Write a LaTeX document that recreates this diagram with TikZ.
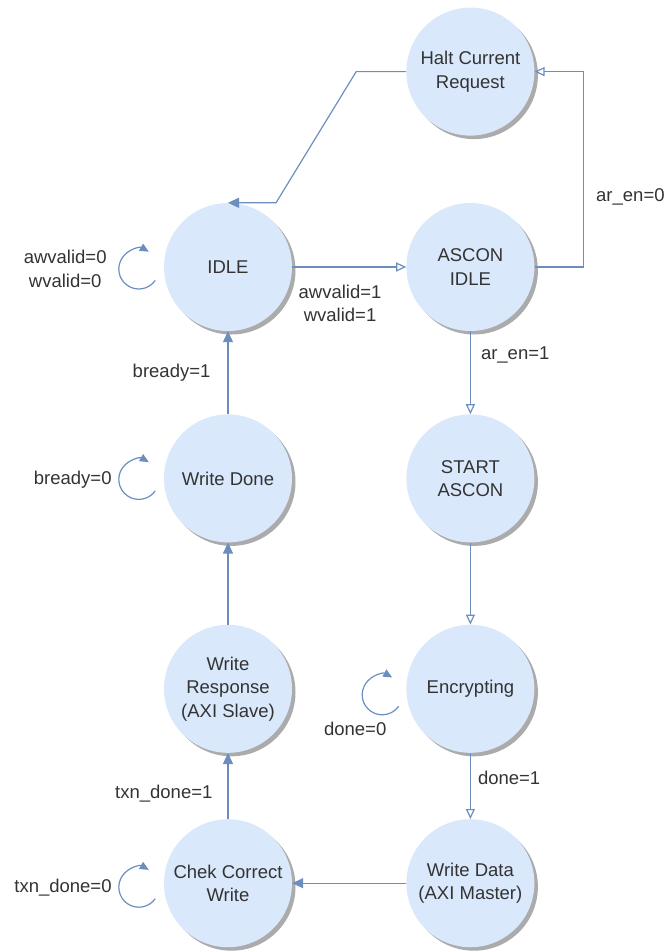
\documentclass[tikz,border=0pt]{standalone}
\usepackage{fontspec}
\setmainfont{Liberation Sans}
\usetikzlibrary{arrows.meta,positioning,shadows}
\definecolor{fsmfill}{HTML}{DAE8FC}
\definecolor{fsmline}{HTML}{6C8EBF}
\definecolor{fsmtext}{HTML}{333333}

\begin{document}
\begin{tikzpicture}[x=1pt, y=-1pt,
  every node/.style={font=\fontsize{18.5}{23.5}\selectfont, text=fsmtext},
  fsm/.style={circle, fill=fsmfill, minimum size=128pt, inner sep=0pt, align=center,
    drop shadow={shadow xshift=3.5pt, shadow yshift=-3.5pt, opacity=0.6, fill=black!55}},
  lbl/.style={align=center, inner sep=1pt},
  fwd/.style={draw=fsmline, line width=1.2pt, -{Triangle[length=11pt,width=10pt]}},
  opn/.style={draw=fsmline, line width=1.2pt, -{Triangle[open,length=10pt,width=9pt]}},
  selfloop/.style={draw=fsmline, line width=1.2pt, -{Triangle[length=9pt,width=8pt]}}]
\useasboundingbox (0,0) rectangle (668,951);
% states
\node[fsm] (idle) at (228,267) {IDLE};
\node[fsm, right=114pt of idle] (ascon) {ASCON\\IDLE};
\node[fsm, above=67pt of ascon] (halt) {Halt Current\\Request};
\node[fsm, below=83pt of ascon] (start) {START\\ASCON};
\node[fsm, below=82pt of start] (encr) {Encrypting};
\node[fsm, below=66pt of encr] (wdata) {Write Data\\(AXI Master)};
\node[fsm, below=83pt of idle] (wdone) {Write Done};
\node[fsm, below=82pt of wdone] (wresp) {Write\\Response\\(AXI Slave)};
\node[fsm, below=66pt of wresp] (chek) {Chek Correct\\Write};
% self loops
\coordinate (lpidle) at ([shift={(-25,2)}]idle.west);
\coordinate (lpwdone) at ([shift={(-25,1)}]wdone.west);
\coordinate (lpchek) at ([shift={(-25,4)}]chek.west);
\coordinate (lpencr) at ([shift={(-24,6)}]encr.west);
\draw[selfloop] ([shift={(-35:20pt)}]lpidle) arc[start angle=-35, end angle=-300, radius=20pt];
\draw[selfloop] ([shift={(-35:20pt)}]lpwdone) arc[start angle=-35, end angle=-300, radius=20pt];
\draw[selfloop] ([shift={(-35:20pt)}]lpchek) arc[start angle=-35, end angle=-300, radius=20pt];
\draw[selfloop] ([shift={(-35:20pt)}]lpencr) arc[start angle=-35, end angle=-300, radius=20pt];
\node[lbl, left=31pt of lpidle] {awvalid=0\\wvalid=0};
\node[lbl, left=26pt of lpwdone] {bready=0};
\node[lbl, left=26pt of lpchek] {txn\_done=0};
\node[lbl] at ([shift={(-27,34)}]lpencr) {done=0};
% transitions
\draw[fwd] (halt.west) -- ++(-50,0) -- ([xshift=48pt]idle.north) -- (idle.north);
\draw[opn] (idle) -- node[lbl, below=16pt, pos=0.42] {awvalid=1\\wvalid=1} (ascon);
\draw[opn] (ascon.east) -- ++(49,0) |- node[lbl, right=11pt, pos=0.18] {ar\_en=0} (halt.east);
\draw[opn] (ascon) -- node[lbl, right=9pt, pos=0.29] {ar\_en=1} (start);
\draw[opn] (start) -- (encr);
\draw[opn] (encr) -- node[lbl, right=6pt, pos=0.38] {done=1} (wdata);
\draw[fwd] (wdata) -- (chek);
\draw[fwd] (chek) -- node[lbl, left=14pt, pos=0.38] {txn\_done=1} (wresp);
\draw[fwd] (wresp) -- (wdone);
\draw[fwd] (wdone) -- node[lbl, left=16pt] {bready=1} (idle);
\end{tikzpicture}
\end{document}
